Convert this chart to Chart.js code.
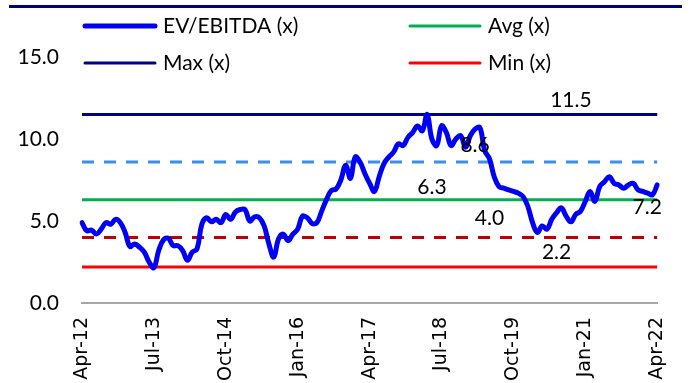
<!DOCTYPE html>
<html>
<head>
<meta charset="utf-8">
<script src="https://cdn.jsdelivr.net/npm/chart.js@4.4.1/dist/chart.umd.min.js"></script>
<style>
  html, body { margin: 0; padding: 0; background: #fff; overflow: hidden; }
  #wrap { position: relative; width: 694px; height: 383px; }
</style>
</head>
<body>
<div id="wrap"><canvas id="chart"></canvas></div>
<script>
"use strict";

// Month labels Apr-12 .. Apr-22
const monthNames = ["Jan", "Feb", "Mar", "Apr", "May", "Jun", "Jul", "Aug", "Sep", "Oct", "Nov", "Dec"];
const months = [];
for (let yr = 2012; yr <= 2022; yr++) {
  for (let m = 0; m < 12; m++) {
    if (yr === 2012 && m < 3) continue;
    if (yr === 2022 && m > 3) continue;
    months.push(monthNames[m] + "-" + String(yr).slice(2));
  }
}

// EV/EBITDA (x), monthly
const evEbitda = [
  4.9, 4.4, 4.45, 4.2, 4.5, 4.9, 4.8, 5.1, 4.9, 4.3,
  3.45, 3.6, 3.4, 3.1, 2.5, 2.15, 3.2, 3.85, 3.95, 3.5,
  3.5, 3.2, 2.6, 3.1, 3.3, 4.8, 5.2, 4.95, 5.1, 4.9,
  5.4, 5.1, 5.55, 5.7, 5.7, 5.0, 5.25, 5.2, 4.7, 3.6,
  2.8, 3.9, 4.2, 3.8, 4.2, 4.5, 5.3, 5.2, 4.85, 4.9,
  5.6, 6.3, 6.85, 6.95, 7.5, 8.4, 7.6, 8.9, 8.6, 7.9,
  7.3, 6.8, 7.7, 8.5, 8.9, 9.2, 9.7, 9.6, 10.1, 10.4,
  10.8, 10.5, 11.5, 10.0, 9.6, 10.8, 10.4, 9.6, 10.0, 10.2,
  9.5, 10.2, 10.6, 10.7, 9.3, 8.8, 7.7, 7.1, 7.0, 6.9,
  6.8, 6.7, 6.5, 5.9, 4.9, 4.3, 4.7, 4.5, 5.1, 5.5,
  5.8, 5.3, 4.95, 5.4, 5.6, 6.2, 6.8, 6.2, 7.1, 7.4,
  7.7, 7.3, 7.2, 7.0, 7.2, 7.3, 6.9, 6.8, 6.7, 6.6,
  7.2
];

// Reference levels
const maxValue = 11.5;
const plusSdValue = 8.6;
const avgValue = 6.3;
const minusSdValue = 4.0;
const minValue = 2.2;

// Y axis ticks
const yTicks = [0, 5, 10, 15];

const firstMonth = months[0];
const lastMonth = months[months.length - 1];

function flatLine(v) {
  return [{ x: firstMonth, y: v }, { x: lastMonth, y: v }];
}

const FONT = "Lato";

// Title rule at top (title text is cut off in the source)
const topRule = {
  id: "topRule",
  beforeDraw(chart) {
    const ctx = chart.ctx;
    ctx.save();
    ctx.strokeStyle = "#00007A";
    ctx.lineWidth = 3;
    ctx.beginPath();
    ctx.moveTo(9, 6.5);
    ctx.lineTo(682, 6.5);
    ctx.stroke();
    ctx.restore();
  }
};

// Two-column legend like the Excel one
const legendItems = [
  { text: "EV/EBITDA (x)", color: "#0000F5", width: 5, x: 85, y: 26 },
  { text: "Avg (x)", color: "#00B050", width: 3, x: 410, y: 26 },
  { text: "Max (x)", color: "#00008C", width: 3, x: 85, y: 63 },
  { text: "Min (x)", color: "#FF0000", width: 3, x: 410, y: 63 }
];

const boxLegend = {
  id: "boxLegend",
  afterDraw(chart) {
    const ctx = chart.ctx;
    ctx.save();
    ctx.font = "21px " + FONT;
    ctx.textBaseline = "middle";
    ctx.textAlign = "left";
    legendItems.forEach((it) => {
      ctx.strokeStyle = it.color;
      ctx.lineWidth = it.width;
      ctx.lineCap = "round";
      ctx.beginPath();
      ctx.moveTo(it.x, it.y);
      ctx.lineTo(it.x + 70, it.y);
      ctx.stroke();
      ctx.fillStyle = "#000";
      ctx.fillText(it.text, it.x + 78, it.y);
    });
    ctx.restore();
  }
};

// Value labels on the reference lines and the last point
const valueLabels = {
  id: "valueLabels",
  afterDatasetsDraw(chart) {
    const { ctx, scales: { x, y } } = chart;
    const spots = [
      { v: maxValue, i: 102, dx: 0, dy: -14 },
      { v: plusSdValue, i: 82, dx: 0, dy: -17 },
      { v: avgValue, i: 73, dx: 0, dy: -12 },
      { v: minusSdValue, i: 85, dx: 0, dy: -19 },
      { v: minValue, i: 99, dx: 0, dy: -15 },
      { v: evEbitda[evEbitda.length - 1], i: evEbitda.length - 1, dx: -10, dy: 22 }
    ];
    ctx.save();
    ctx.font = "21px " + FONT;
    ctx.fillStyle = "#000";
    ctx.textAlign = "center";
    ctx.textBaseline = "middle";
    spots.forEach((s) => {
      ctx.fillText(s.v.toFixed(1), x.getPixelForValue(s.i) + s.dx, y.getPixelForValue(s.v) + s.dy);
    });
    ctx.restore();
  }
};

const chart = new Chart(document.getElementById("chart"), {
  type: "line",
  data: {
    labels: months,
    datasets: [
      {
        label: "EV/EBITDA (x)",
        data: evEbitda,
        borderColor: "#0000F5",
        borderWidth: 5,
        tension: 0.4,
        pointRadius: 0,
        borderCapStyle: "round",
        borderJoinStyle: "round"
      },
      { label: "Max (x)", data: flatLine(maxValue), borderColor: "#00008C", borderWidth: 3, pointRadius: 0 },
      { label: "+1 SD", data: flatLine(plusSdValue), borderColor: "#3B8EF0", borderWidth: 3, borderDash: [12, 10], pointRadius: 0 },
      { label: "Avg (x)", data: flatLine(avgValue), borderColor: "#00B050", borderWidth: 3, pointRadius: 0 },
      { label: "-1 SD", data: flatLine(minusSdValue), borderColor: "#C00000", borderWidth: 3, borderDash: [12, 10], pointRadius: 0 },
      { label: "Min (x)", data: flatLine(minValue), borderColor: "#FF0000", borderWidth: 3, pointRadius: 0 }
    ]
  },
  options: {
    responsive: true,
    maintainAspectRatio: false,
    animation: false,
    layout: { padding: { top: 57, right: 22, left: 0, bottom: 0 } },
    plugins: {
      legend: { display: false },
      tooltip: { enabled: false }
    },
    scales: {
      x: {
        type: "category",
        offset: false,
        grid: { display: false, drawTicks: false },
        border: { display: true, color: "#A6A6A6", width: 2 },
        ticks: {
          autoSkip: false,
          maxRotation: 90,
          minRotation: 90,
          padding: 14,
          color: "#000",
          font: { family: "DejaVu Sans", size: 19 },
          callback: function (val, idx) {
            return idx % 15 === 0 ? this.getLabelForValue(val) : "";
          }
        },
        afterFit: (s) => { s.height = 80; }
      },
      y: {
        min: 0,
        max: 15,
        grid: { display: false, drawTicks: false },
        border: { display: false },
        afterBuildTicks: (s) => { s.ticks = yTicks.map((v) => ({ value: v })); },
        ticks: {
          padding: 23,
          color: "#000",
          font: { family: FONT, size: 21 },
          callback: (v) => Number(v).toFixed(1)
        },
        afterFit: (s) => { s.width = 82; }
      }
    }
  },
  plugins: [topRule, boxLegend, valueLabels]
});
</script>
</body>
</html>
